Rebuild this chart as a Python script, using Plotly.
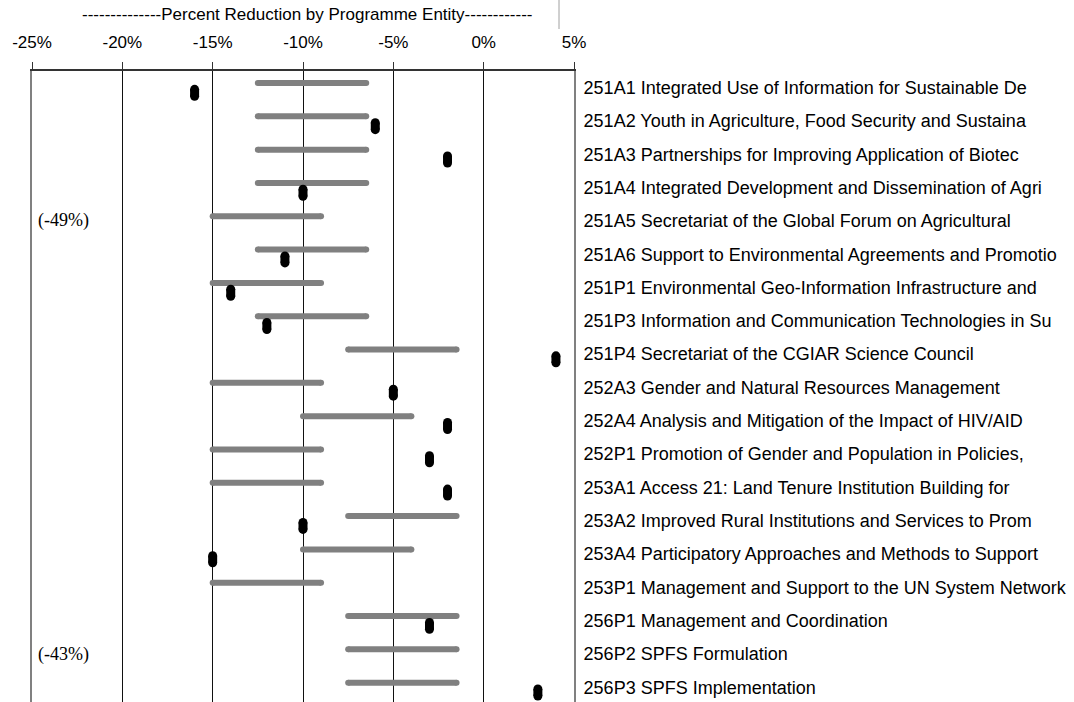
import plotly.graph_objects as go

labels = [
    "251A1 Integrated Use of Information for Sustainable De",
    "251A2 Youth in Agriculture, Food Security and Sustaina",
    "251A3 Partnerships for Improving Application of Biotec",
    "251A4 Integrated Development and Dissemination of Agri",
    "251A5 Secretariat of the Global Forum on Agricultural",
    "251A6 Support to Environmental Agreements and Promotio",
    "251P1 Environmental Geo-Information Infrastructure and",
    "251P3 Information and Communication Technologies in Su",
    "251P4 Secretariat of the CGIAR Science Council",
    "252A3 Gender and Natural Resources Management",
    "252A4 Analysis and Mitigation of the Impact of HIV/AID",
    "252P1 Promotion of Gender and Population in Policies,",
    "253A1 Access 21: Land Tenure Institution Building for",
    "253A2 Improved Rural Institutions and Services to Prom",
    "253A4 Participatory Approaches and Methods to Support",
    "253P1 Management and Support to the UN System Network",
    "256P1 Management and Coordination",
    "256P2 SPFS Formulation",
    "256P3 SPFS Implementation",
]
range_low = [-12.5, -12.5, -12.5, -12.5, -15, -12.5, -15, -12.5, -7.5, -15,
             -10, -15, -15, -7.5, -10, -15, -7.5, -7.5, -7.5]
range_high = [-6.5, -6.5, -6.5, -6.5, -9, -6.5, -9, -6.5, -1.5, -9,
              -4, -9, -9, -1.5, -4, -9, -1.5, -1.5, -1.5]
reduction = [-16, -6, -2, -10, -49, -11, -14, -12, 4, -5,
             -2, -3, -2, -10, -15, None, -3, -43, 3]
tick_vals = [-25, -20, -15, -10, -5, 0, 5]
tick_text = ["-25%", "-20%", "-15%", "-10%", "-5%", "0%", "5%"]

W, H = 1074, 704
L, T = 32, 71
R = W - 574
B = 0
PW, PH = W - L - R, H - T - B

def px_x(px):
    return (px - L) / PW

def px_y(py):
    return 1 + (T - py) / PH

X_MIN, X_MAX = -25, 5
n = len(labels)
BAR_OFF = -0.14
MARK_OFF = 0.155
MARK_HALF = 0.105

# range bars
bx, by = [], []
for i, (lo, hi) in enumerate(zip(range_low, range_high)):
    bx += [lo, hi, None]
    by += [i + BAR_OFF, i + BAR_OFF, None]

# reduction markers (vertical pills)
mx, my = [], []
off_labels = []
for i, v in enumerate(reduction):
    if v is None:
        continue
    if v < X_MIN:
        off_labels.append((i, v))
        continue
    mx += [v, v, None]
    my += [i + MARK_OFF - MARK_HALF, i + MARK_OFF + MARK_HALF, None]

fig = go.Figure()
fig.add_trace(go.Scatter(
    x=bx, y=by, mode="lines+markers",
    line=dict(color="#808080", width=6),
    marker=dict(color="#808080", size=6, symbol="circle"),
    hoverinfo="skip", showlegend=False, cliponaxis=False,
))
fig.add_trace(go.Scatter(
    x=mx, y=my, mode="lines+markers",
    line=dict(color="#000000", width=9),
    marker=dict(color="#000000", size=9, symbol="circle"),
    hoverinfo="skip", showlegend=False, cliponaxis=False,
))

for i, v in off_labels:
    fig.add_annotation(
        x=X_MIN, y=i, xref="x", yref="y",
        text=f"({v}%)", showarrow=False, xanchor="left", xshift=4,
        font=dict(family="Liberation Serif, Times New Roman, serif", size=18, color="#000"),
    )

fig.add_annotation(
    x=px_x(307), y=px_y(15), xref="paper", yref="paper",
    text="--------------Percent Reduction by Programme Entity------------",
    showarrow=False, xanchor="center", yanchor="middle",
    font=dict(family="Liberation Sans, Arial, sans-serif", size=17, color="#000"),
)
fig.add_shape(type="line", xref="paper", yref="paper",
              x0=px_x(559), x1=px_x(559), y0=px_y(0), y1=px_y(29),
              line=dict(color="#a0a0a0", width=1))

fig.update_layout(
    template="none",
    width=W, height=H,
    margin=dict(l=L, r=R, t=T, b=B, autoexpand=False),
    paper_bgcolor="white", plot_bgcolor="white",
    font=dict(family="Liberation Sans, Arial, sans-serif", size=18, color="#000"),
    xaxis=dict(
        range=[X_MIN, X_MAX], side="top", tickvals=tick_vals, ticktext=tick_text,
        showgrid=True, gridcolor="#111111", gridwidth=1,
        showline=True, linecolor="#333333", linewidth=2,
        ticks="outside", ticklen=7, tickcolor="#333333", tickwidth=1,
        zeroline=False, tickfont=dict(size=17), ticklabelstandoff=7, automargin=False,
    ),
    yaxis=dict(
        range=[n - 0.5, -0.5], side="right",
        tickvals=list(range(n)), ticktext=labels,
        showgrid=False, zeroline=False, ticks="",
        showline=True, mirror=True, linecolor="#808080", linewidth=2,
        tickfont=dict(size=18), ticklabelstandoff=4, automargin=False,
    ),
    yaxis2=dict(
        overlaying="y", anchor="free", position=px_x(484), side="left",
        range=[n - 0.5, -0.5], tickvals=[k + 0.5 for k in range(n - 1)],
        ticks="outside", ticklen=4, tickcolor="#000", showticklabels=False,
        showgrid=False, zeroline=False, showline=False, automargin=False,
    ),
)

fig.write_html(
    "out.html",
    config={"displayModeBar": False},
    post_script="document.body.style.margin='0';document.body.style.overflow='hidden';",
)
